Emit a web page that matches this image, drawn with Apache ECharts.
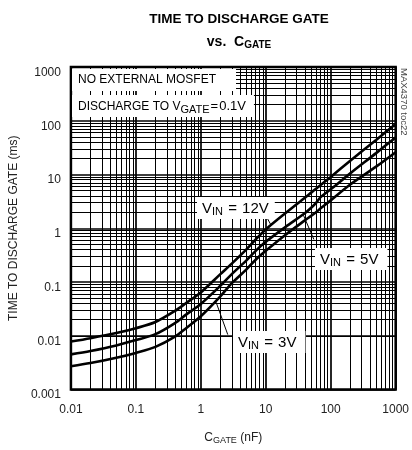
<!DOCTYPE html>
<html><head><meta charset="utf-8">
<script src="https://cdn.jsdelivr.net/npm/echarts@6/dist/echarts.min.js"></script>
<style>html,body{margin:0;padding:0;background:#fff}#c{width:412px;height:450px}</style>
</head><body><div id="c"></div>
<script>
const xTickLabels = ['0.01','0.1','1','10','100','1000'];
const yTickLabels = ['0.001','0.01','0.1','1','10','100','1000'];
const cGate = [0.01,0.02,0.05,0.1,0.2,0.4,0.6,1,2,3,5,7,10,20,40,50,60,70,100,200,500,1000];
const t12V = [0.0078,0.0090,0.0112,0.0138,0.018,0.029,0.041,0.064,0.14,0.22,0.40,0.62,0.95,1.9,3.7,4.6,5.5,6.4,9,18,44,87];
const t5V  = [0.0045,0.0052,0.0066,0.0083,0.0107,0.0172,0.025,0.039,0.085,0.14,0.25,0.38,0.56,1.05,1.9,2.4,3.0,3.8,5.3,10.5,25,49];
const t3V  = [0.0027,0.0031,0.0039,0.0048,0.0062,0.0096,0.014,0.023,0.054,0.095,0.17,0.26,0.38,0.75,1.4,1.7,2.0,2.35,3.3,6.5,14,26];
const seriesNames = ['VIN = 12V','VIN = 5V','VIN = 3V'];
// arrow annotation anchors [label end, curve point] in data units
const arrow12 = [[10.2, 1.65],[11.8, 1.2]];
const arrow5  = [[55, 0.62],[38, 1.75]];
const arrow3  = [[2.6, 0.0105],[1.72, 0.042]];

const FONT = 'Liberation Sans, Arial, sans-serif';
const xMajor = [0.01,0.1,1,10,100];
const yMajor = [0.001,0.01,0.1,1,10,100];
const minorMul = [2,3,4,5,6,7,8,9];
const gridData = [];
xMajor.forEach(d => minorMul.forEach(m => gridData.push({xAxis: +(d*m).toPrecision(3)})));
yMajor.forEach(d => minorMul.forEach(m => gridData.push({yAxis: +(d*m).toPrecision(3)})));

function pairs(ys){ return cGate.map((x,i)=>[x, ys[i]]); }
function arrowLine(a){ return [{coord:a[0]},{coord:a[1]}]; }
function vinRich(){
  return {a:{fontFamily:FONT, fontSize:15, fill:'#000', lineHeight:19},
          s:{fontFamily:FONT, fontSize:15, fill:'#000', lineHeight:19, padding:[0,1,0,1]},
          b:{fontFamily:FONT, fontSize:11, fill:'#000', lineHeight:19, padding:[7,0,0,0]}};
}

const chart = echarts.init(document.getElementById('c'), null, {renderer:'canvas'});
const curveStyle = {color:'#000', width:2.6};
chart.setOption({
  animation:false,
  backgroundColor:'#fff',
  title:{
    left:234, top:7, textAlign:'center', itemGap:7,
    text:'TIME TO DISCHARGE GATE',
    textStyle:{fontFamily:FONT, fontWeight:'bold', fontSize:13.5, color:'#000'},
    subtext:'{a|vs.  C}{b|GATE}',
    subtextStyle:{rich:{
      a:{fontFamily:FONT, fontWeight:'bold', fontSize:14, color:'#000', lineHeight:18},
      b:{fontFamily:FONT, fontWeight:'bold', fontSize:10, color:'#000', lineHeight:18, padding:[7,0,0,0]}
    }}
  },
  grid:{left:70, right:14, top:67, bottom:59, show:true, borderColor:'#000', borderWidth:2.5, backgroundColor:'#fff'},
  xAxis:{
    type:'log', logBase:10, min:0.01, max:1000, splitNumber:5,
    axisLine:{show:false}, axisTick:{show:false},
    axisLabel:{margin:14, fontFamily:FONT, fontSize:12, color:'#222',
      formatter:(v,i)=>xTickLabels[i] ?? ''},
    splitLine:{show:true, lineStyle:{color:'#000', width:1.7}},
    name:'{a|C}{b|GATE}{a| (nF)}', nameLocation:'middle', nameGap:40,
    nameTextStyle:{rich:{
      a:{fontFamily:FONT, fontSize:12, color:'#222', lineHeight:16},
      b:{fontFamily:FONT, fontSize:9, color:'#222', lineHeight:16, padding:[6,0,0,0]}
    }}
  },
  yAxis:{
    type:'log', logBase:10, min:0.001, max:1000, splitNumber:6,
    axisLine:{show:false}, axisTick:{show:false},
    axisLabel:{margin:10, fontFamily:FONT, fontSize:12, color:'#222', verticalAlign:'top', lineHeight:11,
      formatter:(v,i)=>yTickLabels[i] ?? ''},
    splitLine:{show:true, lineStyle:{color:'#000', width:1.7}},
    name:'TIME TO DISCHARGE GATE (ms)', nameLocation:'middle', nameGap:48,
    nameTextStyle:{fontFamily:FONT, fontSize:12, color:'#222'}
  },
  series:[
    {type:'line', name:'grid', data:[], silent:true, z:1,
     markLine:{silent:true, symbol:'none', label:{show:false}, animation:false,
       lineStyle:{color:'#000', width:1, type:'solid'}, emphasis:{disabled:true},
       data:gridData}},
    {type:'line', name:seriesNames[0], data:pairs(t12V), smooth:0.3, showSymbol:false, lineStyle:curveStyle, z:5,
     markLine:{silent:true, symbol:['none','arrow'], symbolSize:[0,9], label:{show:false},
       lineStyle:{color:'#000', width:1, type:'solid'}, data:[arrowLine(arrow12)]}},
    {type:'line', name:seriesNames[1], data:pairs(t5V), smooth:0.3, showSymbol:false, lineStyle:curveStyle, z:5,
     markLine:{silent:true, symbol:['none','arrow'], symbolSize:[0,9], label:{show:false},
       lineStyle:{color:'#000', width:1, type:'solid'}, data:[arrowLine(arrow5)]}},
    {type:'line', name:seriesNames[2], data:pairs(t3V), smooth:0.3, showSymbol:false, lineStyle:curveStyle, z:5,
     markLine:{silent:true, symbol:['none','arrow'], symbolSize:[0,9], label:{show:false},
       lineStyle:{color:'#000', width:1, type:'solid'}, data:[arrowLine(arrow3)]}}
  ],
  graphic:[
    {type:'text', z:100, left:72, top:69, style:{text:'NO EXTERNAL MOSFET', fontFamily:FONT, fontSize:12, fill:'#000',
      backgroundColor:'#fff', padding:[5,20,5,6]}},
    {type:'text', z:100, left:72, top:95, style:{
      text:'{a|DISCHARGE TO V}{b|GATE}{e|=}{c|0.1V}', backgroundColor:'#fff', padding:[3,8,2,6],
      rich:{a:{fontFamily:FONT, fontSize:12, fill:'#000', lineHeight:17},
            b:{fontFamily:FONT, fontSize:11, fill:'#000', lineHeight:17, padding:[6,1,0,0]},
            e:{fontFamily:FONT, fontSize:13, fill:'#000', lineHeight:17, padding:[0,1,0,0]},
            c:{fontFamily:FONT, fontSize:13, fill:'#000', lineHeight:17}}}},
    {type:'text', z:100, left:197, top:197, style:{
      text:'{a|V}{b|IN}{s| = }{a|12V}', backgroundColor:'#fff', padding:[2,6,1,5], rich:vinRich()}},
    {type:'text', z:100, left:315, top:248, style:{
      text:'{a|V}{b|IN}{s| = }{a|5V}', backgroundColor:'#fff', padding:[2,9,1,5], rich:vinRich()}},
    {type:'text', z:100, left:233, top:331, style:{
      text:'{a|V}{b|IN}{s| = }{a|3V}', backgroundColor:'#fff', padding:[2,9,1,5], rich:vinRich()}},
    {type:'text', z:100, left:399, top:68, rotation:-Math.PI/2, originX:0, originY:0,
      style:{text:'MAX4370 toc22', fontFamily:FONT, fontSize:9.5, fill:'#444'}}
  ]
});
</script></body></html>
